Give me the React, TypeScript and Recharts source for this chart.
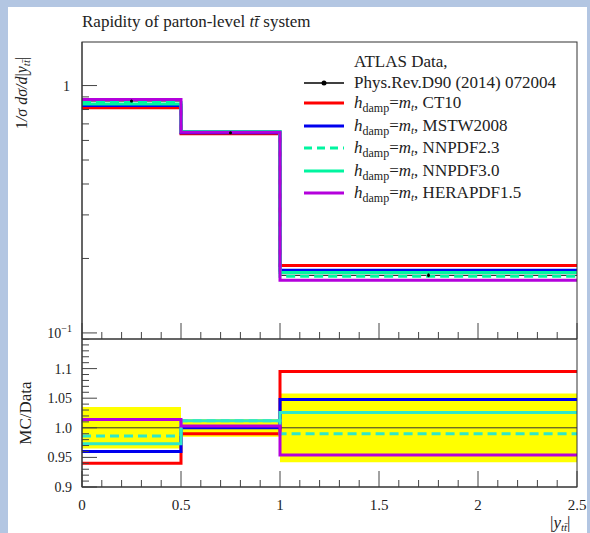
import React from "react";
import {
  ComposedChart,
  Line,
  Area,
  Scatter,
  ErrorBar,
  XAxis,
  YAxis,
  ReferenceLine,
} from "recharts";

// bin edges of |y_tt| and normalised data
const binEdges = [0, 0.5, 1, 2.5];
const dataValues = [0.866, 0.645, 0.171];
const dataRelErr = [0.035, 0.015, 0.058];

// MC / Data ratios per bin
const ratioCT10 = [0.94, 0.99, 1.095];
const ratioMSTW = [0.96, 1.0, 1.048];
const ratioNNPDF23 = [0.986, 1.012, 0.99];
const ratioNNPDF30 = [0.973, 1.012, 1.026];
const ratioHERA = [1.014, 1.003, 0.954];

const pdfNames = ["CT10", "MSTW2008", "NNPDF2.3", "NNPDF3.0", "HERAPDF1.5"];

const xMajorTicks = [0, 0.5, 1, 1.5, 2, 2.5];
const xTickLabels = ["0", "0.5", "1", "1.5", "2", "2.5"];
const mainYTicks = [0.1, 0.2, 0.3, 0.4, 0.5, 0.6, 0.7, 0.8, 0.9, 1];
const mainYMajor = [0.1, 1];
const ratioYMajor = [0.9, 0.95, 1.0, 1.05, 1.1];
const ratioYLabels = ["0.9", "0.95", "1.0", "1.05", "1.1"];

const SERIES = [
  { key: "ct10", ratio: ratioCT10, color: "#ff0000", ratioColor: "#ff0000", dash: undefined },
  { key: "mstw", ratio: ratioMSTW, color: "#0000ee", ratioColor: "#0000ee", dash: undefined },
  { key: "nn23", ratio: ratioNNPDF23, color: "#00f5a0", ratioColor: "#2ee8c8", dash: "9 5" },
  { key: "nn30", ratio: ratioNNPDF30, color: "#00f5a0", ratioColor: "#2ee8c8", dash: undefined },
  { key: "hera", ratio: ratioHERA, color: "#b400dc", ratioColor: "#b400dc", dash: undefined },
];

const W = 590;
const PLOT_LEFT = 82;
const PLOT_RIGHT = 577;
const MAIN_TOP = 42;
const MAIN_BOTTOM = 339;
const RATIO_H = 148;
const FONT = "'Liberation Serif', 'DejaVu Serif', serif";
const TICK = "#444";

const binOf = (i: number) => Math.min(i, dataValues.length - 1);

const mainRows = binEdges.map((x, i) => {
  const b = binOf(i);
  const row: Record<string, number> = { x, data: dataValues[b] };
  SERIES.forEach((s) => (row[s.key] = dataValues[b] * s.ratio[b]));
  return row;
});

const ratioRows = binEdges.map((x, i) => {
  const b = binOf(i);
  const row: Record<string, any> = { x, band: [1 - dataRelErr[b], 1 + dataRelErr[b]] };
  SERIES.forEach((s) => (row[s.key] = s.ratio[b]));
  return row;
});

const dataPoints = dataValues.map((v, i) => ({
  x: (binEdges[i] + binEdges[i + 1]) / 2,
  data: v,
  err: v * dataRelErr[i] * 0.3,
}));

const xTicks = Array.from({ length: 26 }, (_, i) => i / 10);
const ratioYTicks = Array.from({ length: 26 }, (_, i) => Math.round(90 + i) / 100);

const isIn = (arr: number[], v: number) => arr.findIndex((m) => Math.abs(m - v) < 1e-9);

function MainYTick(props: any) {
  const { y, payload } = props;
  const idx = isIn(mainYMajor, payload.value);
  return (
    <g>
      <line x1={PLOT_LEFT} x2={PLOT_LEFT + (idx >= 0 ? 15 : 7)} y1={y} y2={y} stroke={TICK} />
      {idx === 1 && (
        <text x={PLOT_LEFT - 12} y={y + 5} textAnchor="end" fontSize={14} fontFamily={FONT} fill="#222">
          1
        </text>
      )}
      {idx === 0 && (
        <text x={PLOT_LEFT - 10} y={y + 5} textAnchor="end" fontSize={14} fontFamily={FONT} fill="#222">
          10<tspan dy={-6} fontSize={10}>−1</tspan>
        </text>
      )}
    </g>
  );
}

function RatioYTick(props: any) {
  const { y, payload } = props;
  const idx = isIn(ratioYMajor, payload.value);
  return (
    <g>
      <line x1={PLOT_LEFT} x2={PLOT_LEFT + (idx >= 0 ? 15 : 7)} y1={y} y2={y} stroke={TICK} />
      {idx >= 0 && (
        <text x={PLOT_LEFT - 10} y={y + 5} textAnchor="end" fontSize={14} fontFamily={FONT} fill="#222">
          {ratioYLabels[idx]}
        </text>
      )}
    </g>
  );
}

function makeXTick(bottom: number, labels: boolean) {
  return function XTick(props: any) {
    const { x, payload } = props;
    const idx = isIn(xMajorTicks, payload.value);
    return (
      <g>
        <line x1={x} x2={x} y1={bottom} y2={bottom - (idx >= 0 ? 16 : 7)} stroke={TICK} />
        {labels && idx >= 0 && (
          <text x={x} y={bottom + 23} textAnchor="middle" fontSize={15} fontFamily={FONT} fill="#222">
            {xTickLabels[idx]}
          </text>
        )}
      </g>
    );
  };
}

function Hdamp({ name }: { name: string }) {
  return (
    <>
      <tspan fontStyle="italic">h</tspan>
      <tspan fontSize={12} dy={4}>damp</tspan>
      <tspan dy={-4}>=</tspan>
      <tspan fontStyle="italic">m</tspan>
      <tspan fontSize={11} dy={3} fontStyle="italic">t</tspan>
      <tspan dy={-3}>, {name}</tspan>
    </>
  );
}

function Overlay() {
  const rowY = [103, 126, 148, 171, 193];
  return (
    <svg width={W} height={533} style={{ position: "absolute", left: 0, top: 0, pointerEvents: "none" }}>
      <rect x={PLOT_LEFT} y={MAIN_TOP} width={PLOT_RIGHT - PLOT_LEFT} height={MAIN_BOTTOM + RATIO_H - MAIN_TOP} fill="none" stroke="#333" />
      <line x1={PLOT_LEFT} x2={PLOT_RIGHT} y1={MAIN_BOTTOM} y2={MAIN_BOTTOM} stroke="#333" />
      <text x={PLOT_LEFT} y={27} fontSize={17} fontFamily={FONT} fill="#222">
        Rapidity of parton-level <tspan fontStyle="italic">tt̄</tspan> system
      </text>
      <text transform="translate(27,93) rotate(-90)" textAnchor="middle" fontSize={16} fontFamily={FONT} fill="#222">
        1<tspan fontStyle="italic">/σ dσ/d</tspan>|<tspan fontStyle="italic">y</tspan>
        <tspan fontSize={11} dy={3} fontStyle="italic">tt̄</tspan>
        <tspan dy={-3}>|</tspan>
      </text>
      <text transform="translate(31,413) rotate(-90)" textAnchor="middle" fontSize={17} fontFamily={FONT} fill="#222">
        MC/Data
      </text>
      <text x={550} y={528} fontSize={17} fontFamily={FONT} fill="#222">
        |<tspan fontStyle="italic">y</tspan>
        <tspan fontSize={11} dy={3} fontStyle="italic">tt̄</tspan>
        <tspan dy={-3}>|</tspan>
      </text>
      {/* legend */}
      <g fontFamily={FONT} fontSize={17} fill="#222">
        <text x={354} y={67}>ATLAS Data,</text>
        <line x1={304} x2={344} y1={83} y2={83} stroke="#000" strokeWidth={1.5} />
        <circle cx={324} cy={83} r={2.5} fill="#000" />
        <text x={354} y={88}>Phys.Rev.D90 (2014) 072004</text>
        {SERIES.map((s, i) => (
          <g key={s.key}>
            <line x1={304} x2={344} y1={rowY[i]} y2={rowY[i]} stroke={s.color} strokeWidth={3} strokeDasharray={s.dash ? "8 5" : undefined} />
            <text x={354} y={rowY[i] + 5}>
              <Hdamp name={pdfNames[i]} />
            </text>
          </g>
        ))}
      </g>
    </svg>
  );
}

export default function App() {
  return (
    <div style={{ position: "relative", width: W, height: 533, background: "#b3c6e2", overflow: "hidden" }}>
      <style>{"body{margin:0}"}</style>
      <div style={{ position: "absolute", left: 8, top: 7, width: 579, height: 526, background: "#fff" }} />
      <div style={{ position: "absolute", left: 0, top: 0 }}>
        <ComposedChart width={W} height={MAIN_BOTTOM + 6} data={mainRows} margin={{ top: MAIN_TOP, right: W - PLOT_RIGHT, bottom: 0, left: 0 }}>
          <XAxis
            type="number"
            dataKey="x"
            domain={[0, 2.5]}
            ticks={xTicks}
            interval={0}
            allowDataOverflow
            height={6}
            axisLine={{ stroke: "#333" }}
            tickLine={false}
            tick={makeXTick(MAIN_BOTTOM, false)}
          />
          <YAxis
            type="number"
            scale="log"
            domain={[0.0945, 1.5]}
            ticks={mainYTicks}
            interval={0}
            allowDataOverflow
            width={PLOT_LEFT}
            axisLine={{ stroke: "#333" }}
            tickLine={false}
            tick={<MainYTick />}
          />
          <Line dataKey="data" type="stepAfter" stroke="#000" strokeWidth={1} dot={false} activeDot={false} isAnimationActive={false} />
          {SERIES.map((s) => (
            <Line
              key={s.key}
              dataKey={s.key}
              type="stepAfter"
              stroke={s.color}
              strokeWidth={3}
              strokeDasharray={s.dash}
              dot={false}
              activeDot={false}
              isAnimationActive={false}
            />
          ))}
          <Scatter
            data={dataPoints}
            dataKey="data"
            isAnimationActive={false}
            shape={(p: any) => <circle cx={p.cx} cy={p.cy} r={1.5} fill="#000" />}
          >
            <ErrorBar dataKey="err" direction="y" width={0} stroke="#000" />
          </Scatter>
        </ComposedChart>
      </div>
      <div style={{ position: "absolute", left: 0, top: MAIN_BOTTOM }}>
        <ComposedChart width={W} height={RATIO_H + 46} data={ratioRows} margin={{ top: 0, right: W - PLOT_RIGHT, bottom: 0, left: 0 }}>
          <XAxis
            type="number"
            dataKey="x"
            domain={[0, 2.5]}
            ticks={xTicks}
            interval={0}
            allowDataOverflow
            height={46}
            axisLine={{ stroke: "#333" }}
            tickLine={false}
            tick={makeXTick(RATIO_H, true)}
          />
          <YAxis
            type="number"
            domain={[0.9, 1.15]}
            ticks={ratioYTicks}
            interval={0}
            allowDataOverflow
            width={PLOT_LEFT}
            axisLine={{ stroke: "#333" }}
            tickLine={false}
            tick={<RatioYTick />}
          />
          <Area dataKey="band" type="stepAfter" fill="#ffff00" fillOpacity={1} stroke="none" isAnimationActive={false} />
          <ReferenceLine y={1} stroke="#333" strokeWidth={1} />
          {SERIES.map((s) => (
            <Line
              key={s.key}
              dataKey={s.key}
              type="stepAfter"
              stroke={s.ratioColor}
              strokeWidth={3}
              strokeDasharray={s.dash}
              dot={false}
              activeDot={false}
              isAnimationActive={false}
            />
          ))}
        </ComposedChart>
      </div>
      <Overlay />
    </div>
  );
}
